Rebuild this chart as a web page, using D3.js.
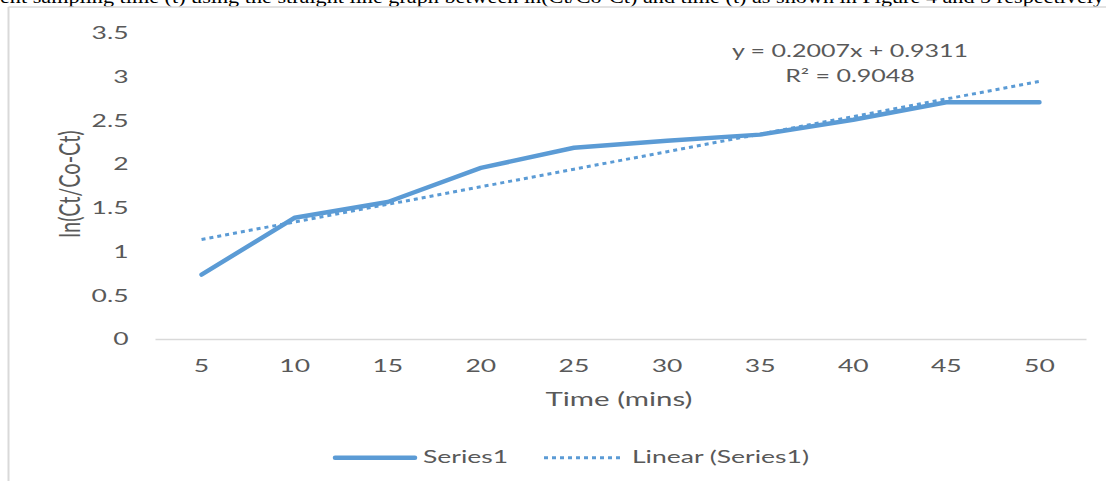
<!DOCTYPE html>
<html>
<head>
<meta charset="utf-8">
<script src="https://cdn.jsdelivr.net/npm/d3@7"></script>
<style>
  html, body { margin: 0; padding: 0; background: #ffffff; }
  svg { display: block; }
  text { font-family: Lato, "Open Sans", sans-serif; }
</style>
</head>
<body>
<svg id="chart" width="1106" height="481"></svg>
<script>
// ---- data ----
const categories = ["5", "10", "15", "20", "25", "30", "35", "40", "45", "50"];
const series1 = [0.73, 1.38, 1.56, 1.95, 2.18, 2.26, 2.33, 2.50, 2.70, 2.70];
const yTicks = [0, 0.5, 1, 1.5, 2, 2.5, 3, 3.5];
const trendCoeffs = [0.2007, 0.9311]; // slope, intercept (x = category index 1..n)
const equationLines = ["y = 0.2007x + 0.9311", "R\u00B2 = 0.9048"];
const legendLabels = ["Series1", "Linear (Series1)"];
const xTitle = "Time (mins)";
const yTitle = "ln(Ct/Co-Ct)";
const docText = "ent sampling time (t) using the straight line graph between ln(Ct/Co-Ct) and time (t) as shown in Figure 4 and 5 respectively";

// ---- setup ----
const svg = d3.select("#chart");
const blue = "#5B9BD5";
const grey = "#595959";
const x = d3.scaleBand().domain(categories).range([155, 1086]);
const xc = d => x(d) + x.bandwidth() / 2;
const y = d3.scaleLinear().domain([0, 3.5]).range([338.5, 32.25]);

// clipped document text at top
svg.append("text")
  .attr("x", 0).attr("y", 3)
  .attr("textLength", 1104).attr("lengthAdjust", "spacingAndGlyphs")
  .style("font-family", "'Liberation Serif', 'DejaVu Serif', serif")
  .style("font-size", "19px").attr("fill", "#000")
  .text(docText);

// chart frame (only top and left visible)
svg.append("line").attr("x1", 8.5).attr("x2", 1106).attr("y1", 7).attr("y2", 7)
  .attr("stroke", "#d9d9d9").attr("stroke-width", 1.5);
svg.append("line").attr("x1", 8.5).attr("x2", 8.5).attr("y1", 7).attr("y2", 481)
  .attr("stroke", "#d9d9d9").attr("stroke-width", 2);

// x title to determine the horizontal stretch
const xt = svg.append("text")
  .attr("fill", grey).style("font-size", "20px")
  .attr("text-anchor", "start")
  .text(xTitle);
const sx = 147 / xt.node().getComputedTextLength();
xt.attr("transform", `translate(545.5,406) scale(${sx},1)`);

// y title
svg.append("text")
  .attr("fill", grey).style("font-size", "20px")
  .attr("text-anchor", "middle")
  .attr("transform", `translate(79.5,184) rotate(-90) scale(1,${sx})`)
  .text(yTitle);

// x axis
const gx = svg.append("g").attr("transform", "translate(0,339)")
  .call(d3.axisBottom(x).tickSize(0).tickPadding(0));
gx.select(".domain").attr("stroke", "#d9d9d9").attr("stroke-width", 1.5);
gx.selectAll(".tick text")
  .attr("y", 32.7).attr("dy", 0)
  .attr("fill", grey).style("font-size", "18px")
  .style("font-family", "Lato, 'Open Sans', sans-serif")
  .attr("transform", `scale(${sx},1)`);

// y axis
const gy = svg.append("g").attr("transform", "translate(128.5,0)")
  .call(d3.axisLeft(y).tickValues(yTicks).tickSize(0).tickPadding(0)
    .tickFormat(d => String(d)));
gy.select(".domain").remove();
gy.selectAll(".tick text")
  .attr("x", 0).attr("dy", "0.36em")
  .attr("fill", grey).style("font-size", "18px")
  .style("font-family", "Lato, 'Open Sans', sans-serif")
  .attr("transform", `scale(${sx},1)`);

// series line
const line = d3.line().x((d, i) => xc(categories[i])).y(d => y(d));
svg.append("path").datum(series1)
  .attr("d", line)
  .attr("fill", "none").attr("stroke", blue)
  .attr("stroke-width", 4.5)
  .attr("stroke-linejoin", "round").attr("stroke-linecap", "round");

// trendline
const trend = categories.map((c, i) => trendCoeffs[0] * (i + 1) + trendCoeffs[1]);
svg.append("path").datum(trend)
  .attr("d", line)
  .attr("fill", "none").attr("stroke", blue)
  .attr("stroke-width", 3)
  .attr("stroke-dasharray", "4,4");

// equation label
equationLines.forEach((t, i) => {
  svg.append("text")
    .attr("fill", grey).style("font-size", "17px")
    .attr("text-anchor", "middle")
    .attr("transform", `translate(850,${57 + i * 25}) scale(${sx},1)`)
    .text(t);
});

// legend
svg.append("line").attr("x1", 335).attr("x2", 415).attr("y1", 457.7).attr("y2", 457.7)
  .attr("stroke", blue).attr("stroke-width", 4.5).attr("stroke-linecap", "round");
svg.append("text").attr("fill", grey).style("font-size", "18px")
  .attr("transform", `translate(423,463) scale(${sx},1)`)
  .text(legendLabels[0]);
svg.append("line").attr("x1", 544).attr("x2", 620).attr("y1", 457.7).attr("y2", 457.7)
  .attr("stroke", blue).attr("stroke-width", 3).attr("stroke-dasharray", "4,4");
svg.append("text").attr("fill", grey).style("font-size", "18px")
  .attr("transform", `translate(632,463) scale(${sx},1)`)
  .text(legendLabels[1]);
</script>
</body>
</html>
